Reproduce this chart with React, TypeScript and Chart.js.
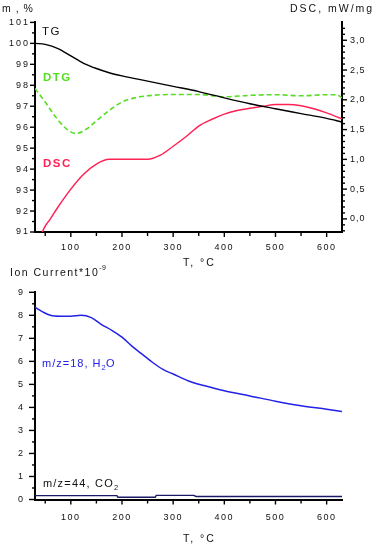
import React, { useEffect, useRef } from 'react';
import { Chart, registerables } from 'chart.js';
Chart.register(...registerables);

// ---------- data (top panel) ----------
const tgTemp = [30, 50, 75, 100, 125, 150, 175, 200, 250, 300, 350, 400, 450, 500, 550, 600, 630];
const tgMass = [100.0, 99.95, 99.75, 99.4, 99.05, 98.8, 98.6, 98.45, 98.2, 97.95, 97.7, 97.4, 97.12, 96.88, 96.65, 96.42, 96.25];

const dtgTemp = [30, 50, 70, 90, 110, 130, 150, 175, 200, 225, 250, 300, 350, 400, 450, 500, 550, 600, 620, 630];
const dtgVal = [97.85, 97.2, 96.5, 95.95, 95.7, 95.9, 96.3, 96.8, 97.2, 97.4, 97.5, 97.56, 97.56, 97.45, 97.52, 97.55, 97.5, 97.55, 97.55, 97.4];

const dscTemp = [40, 50, 60, 75, 100, 125, 150, 175, 200, 225, 250, 275, 300, 325, 350, 375, 400, 425, 450, 475, 500, 525, 550, 575, 600, 630];
const dscVal = [-0.3, -0.12, 0.0, 0.2, 0.5, 0.75, 0.92, 1.0, 1.0, 1.0, 1.0, 1.07, 1.22, 1.38, 1.56, 1.67, 1.76, 1.82, 1.86, 1.89, 1.92, 1.92, 1.9, 1.85, 1.78, 1.68];

// ---------- data (bottom panel) ----------
const h2oTemp = [30, 45, 60, 80, 100, 120, 140, 160, 180, 200, 220, 240, 260, 280, 300, 330, 360, 400, 450, 500, 550, 600, 630];
const h2oVal = [8.35, 8.15, 8.0, 7.96, 7.96, 8.0, 7.9, 7.6, 7.35, 7.05, 6.65, 6.3, 5.95, 5.65, 5.45, 5.15, 4.95, 4.72, 4.5, 4.27, 4.07, 3.92, 3.82];

const co2Temp = [30, 190, 192, 265, 267, 340, 345, 630];
const co2Val = [0.17, 0.17, 0.1, 0.1, 0.18, 0.18, 0.13, 0.13];

// ---------- ticks ----------
const tempTicks = [100, 200, 300, 400, 500, 600];
const tempMinor = [50, 150, 250, 350, 450, 550];
const massTicks = [91, 92, 93, 94, 95, 96, 97, 98, 99, 100, 101];
const massMinor = [91.5, 92.5, 93.5, 94.5, 95.5, 96.5, 97.5, 98.5, 99.5, 100.5];
const dscTicks = [0, 0.5, 1.0, 1.5, 2.0, 2.5, 3.0];
const dscMinor = [-0.2, -0.1, 0.1, 0.2, 0.3, 0.4, 0.6, 0.7, 0.8, 0.9, 1.1, 1.2, 1.3, 1.4, 1.6, 1.7, 1.8, 1.9, 2.1, 2.2, 2.3, 2.4, 2.6, 2.7, 2.8, 2.9, 3.1, 3.2];
const ionTicks = [0, 1, 2, 3, 4, 5, 6, 7, 8, 9];
const ionMinor = [0.5, 1.5, 2.5, 3.5, 4.5, 5.5, 6.5, 7.5, 8.5];

const FONT = '"Liberation Sans", Arial, sans-serif';
const GREEN = '#55dd22';
const RED = '#ff2255';
const BLUE = '#2222e6';

const pts = (xs: number[], ys: number[]) => xs.map((x, i) => ({ x, y: ys[i] }));

function spacedLabels(sp: string) {
  return (s: any) => {
    if (s.__patched) return;
    s.__patched = true;
    const proto = Object.getPrototypeOf(s);
    s.drawLabels = function (area: any) {
      const c = this.ctx;
      c.save();
      c.letterSpacing = sp;
      proto.drawLabels.call(this, area);
      c.restore();
    };
  };
}

type TickSpec = { id: string; side: 'left' | 'right' | 'bottom'; major: number[]; minor: number[]; majorLen: number; minorLen: number };

function tickPlugin(specs: TickSpec[]) {
  return {
    id: 'tickMarks',
    afterDraw(chart: any) {
      const ctx = chart.ctx;
      ctx.save();
      ctx.strokeStyle = '#000';
      ctx.lineWidth = 1.4;
      for (const s of specs) {
        const sc = chart.scales[s.id];
        const mark = (v: number, len: number) => {
          const p = sc.getPixelForValue(v);
          ctx.beginPath();
          if (s.side === 'bottom') {
            ctx.moveTo(p, sc.top);
            ctx.lineTo(p, sc.top + len);
          } else if (s.side === 'left') {
            ctx.moveTo(sc.right, p);
            ctx.lineTo(sc.right - len, p);
          } else {
            ctx.moveTo(sc.left, p);
            ctx.lineTo(sc.left + len, p);
          }
          ctx.stroke();
        };
        s.major.forEach((v) => mark(v, s.majorLen));
        s.minor.forEach((v) => mark(v, s.minorLen));
      }
      ctx.restore();
    },
  };
}

type Part = { t: string; size: number; color: string; bold?: boolean; dy?: number; sp?: number };
type TextItem = { x: number; y: number; parts: Part[] };

function textPlugin(items: TextItem[]) {
  return {
    id: 'texts',
    afterDraw(chart: any) {
      const ctx = chart.ctx;
      ctx.save();
      ctx.textAlign = 'left';
      ctx.textBaseline = 'alphabetic';
      for (const it of items) {
        let cx = it.x;
        for (const p of it.parts) {
          ctx.font = `${p.bold ? 'bold ' : ''}${p.size}px ${FONT}`;
          ctx.letterSpacing = `${p.sp ?? 1}px`;
          ctx.fillStyle = p.color;
          ctx.fillText(p.t, cx, it.y + (p.dy || 0));
          cx += ctx.measureText(p.t).width;
        }
      }
      ctx.restore();
    },
  };
}

const tickFont = { family: FONT, size: 9 };

function xScale(height: number, pad: number) {
  return {
    type: 'linear' as const,
    position: 'bottom' as const,
    min: 30,
    max: 630,
    grid: { display: false, drawTicks: false },
    border: { display: true, color: '#000', width: 2 },
    ticks: { font: tickFont, color: '#111', padding: pad, maxRotation: 0, autoSkip: false },
    afterBuildTicks: (s: any) => {
      s.ticks = tempTicks.map((v) => ({ value: v }));
    },
    afterFit: (s: any) => {
      s.height = height;
      spacedLabels('1.5px')(s);
    },
  };
}

function topConfig(): any {
  return {
    type: 'line',
    data: {
      datasets: [
        { data: pts(tgTemp, tgMass), yAxisID: 'y', borderColor: '#000', borderWidth: 1.4 },
        { data: pts(dtgTemp, dtgVal), yAxisID: 'y', borderColor: GREEN, borderWidth: 1.6, borderDash: [5, 3] },
        { data: pts(dscTemp, dscVal), yAxisID: 'y2', borderColor: RED, borderWidth: 1.5 },
      ],
    },
    options: {
      responsive: false,
      animation: false,
      devicePixelRatio: 1,
      parsing: false,
      layout: { padding: { top: 22.4, bottom: 277, left: 0, right: 0 } },
      plugins: { legend: { display: false }, tooltip: { enabled: false } },
      elements: { point: { radius: 0 }, line: { cubicInterpolationMode: 'monotone', fill: false } },
      scales: {
        x: xScale(38, 10),
        y: {
          type: 'linear',
          position: 'left',
          min: 91,
          max: 101,
          grid: { display: false, drawTicks: false },
          border: { display: true, color: '#000', width: 2 },
          ticks: { font: tickFont, color: '#111', padding: 5, autoSkip: false },
          afterBuildTicks: (s: any) => {
            s.ticks = massTicks.map((v) => ({ value: v }));
          },
          afterFit: (s: any) => {
            s.width = 35;
            spacedLabels('2px')(s);
          },
        },
        y2: {
          type: 'linear',
          position: 'right',
          min: -0.22,
          max: 3.3,
          grid: { display: false, drawTicks: false },
          border: { display: true, color: '#000', width: 2 },
          ticks: {
            font: tickFont,
            color: '#111',
            padding: 8,
            autoSkip: false,
            callback: (v: number) => v.toFixed(1).replace('.', ','),
          },
          afterBuildTicks: (s: any) => {
            s.ticks = dscTicks.map((v) => ({ value: v }));
          },
          afterFit: (s: any) => {
            s.width = 39;
            spacedLabels('1px')(s);
          },
        },
      },
    },
    plugins: [
      tickPlugin([
        { id: 'x', side: 'bottom', major: tempTicks, minor: tempMinor, majorLen: 5, minorLen: 4 },
        { id: 'y', side: 'left', major: massTicks, minor: massMinor, majorLen: 5, minorLen: 3 },
        { id: 'y2', side: 'right', major: dscTicks, minor: dscMinor, majorLen: 5, minorLen: 3 },
      ]),
      textPlugin([
        { x: 2, y: 12, parts: [{ t: 'm , %', size: 10.5, color: '#111', sp: 1 }] },
        { x: 290, y: 11.5, parts: [{ t: 'DSC, mW/mg', size: 10.5, color: '#111', sp: 2 }] },
        { x: 183, y: 265.5, parts: [{ t: 'T, °C', size: 10.5, color: '#111', sp: 2 }] },
        { x: 42, y: 35, parts: [{ t: 'TG', size: 11.5, color: '#111', sp: 1.5 }] },
        { x: 43, y: 81, parts: [{ t: 'DTG', size: 11.5, color: GREEN, bold: true, sp: 1.5 }] },
        { x: 43, y: 166.7, parts: [{ t: 'DSC', size: 11.5, color: RED, bold: true, sp: 1.5 }] },
      ]),
    ],
  };
}

function bottomConfig(): any {
  return {
    type: 'line',
    data: {
      datasets: [
        { data: pts(h2oTemp, h2oVal), borderColor: BLUE, borderWidth: 1.5, cubicInterpolationMode: 'monotone' },
        { data: pts(co2Temp, co2Val), borderColor: '#1a1a66', borderWidth: 1.4, tension: 0 },
      ],
    },
    options: {
      responsive: false,
      animation: false,
      devicePixelRatio: 1,
      parsing: false,
      layout: { padding: { top: 292.3, bottom: 0, left: 0, right: 39 } },
      plugins: { legend: { display: false }, tooltip: { enabled: false } },
      elements: { point: { radius: 0 }, line: { fill: false } },
      scales: {
        x: xScale(47.5, 13),
        y: {
          type: 'linear',
          position: 'left',
          min: 0,
          max: 9,
          grid: { display: false, drawTicks: false },
          border: { display: true, color: '#000', width: 2 },
          ticks: { font: tickFont, color: '#111', padding: 10, autoSkip: false },
          afterBuildTicks: (s: any) => {
            s.ticks = ionTicks.map((v) => ({ value: v }));
          },
          afterFit: (s: any) => {
            s.width = 35;
            spacedLabels('2px')(s);
          },
        },
      },
    },
    plugins: [
      tickPlugin([
        { id: 'x', side: 'bottom', major: tempTicks, minor: tempMinor, majorLen: 5, minorLen: 4 },
        { id: 'y', side: 'left', major: ionTicks, minor: ionMinor, majorLen: 6, minorLen: 3 },
      ]),
      textPlugin([
        {
          x: 10,
          y: 276,
          parts: [
            { t: 'Ion Current*10', size: 10.5, color: '#111', sp: 1.5 },
            { t: '-9', size: 7, color: '#111', sp: 0.5, dy: -6 },
          ],
        },
        { x: 183, y: 541.5, parts: [{ t: 'T, °C', size: 10.5, color: '#111', sp: 2 }] },
        {
          x: 42,
          y: 366.5,
          parts: [
            { t: 'm/z=18, H', size: 11, color: BLUE, sp: 1 },
            { t: '2', size: 7.5, color: BLUE, sp: 0.5, dy: 3.5 },
            { t: 'O', size: 11, color: BLUE, sp: 1 },
          ],
        },
        {
          x: 43,
          y: 487,
          parts: [
            { t: 'm/z=44, CO', size: 11, color: '#111', sp: 1.2 },
            { t: '2', size: 7.5, color: '#111', sp: 0.5, dy: 3 },
          ],
        },
      ]),
    ],
  };
}

export default function App() {
  const topRef = useRef<HTMLCanvasElement>(null);
  const botRef = useRef<HTMLCanvasElement>(null);

  useEffect(() => {
    const c1 = new Chart(topRef.current as HTMLCanvasElement, topConfig());
    const c2 = new Chart(botRef.current as HTMLCanvasElement, bottomConfig());
    return () => {
      c1.destroy();
      c2.destroy();
    };
  }, []);

  const cs: React.CSSProperties = { position: 'absolute', left: 0, top: 0, width: 381, height: 547 };
  return (
    <div style={{ position: 'fixed', left: 0, top: 0, width: 381, height: 547, background: '#fff' }}>
      <canvas ref={topRef} width={381} height={547} style={cs} />
      <canvas ref={botRef} width={381} height={547} style={cs} />
    </div>
  );
}
